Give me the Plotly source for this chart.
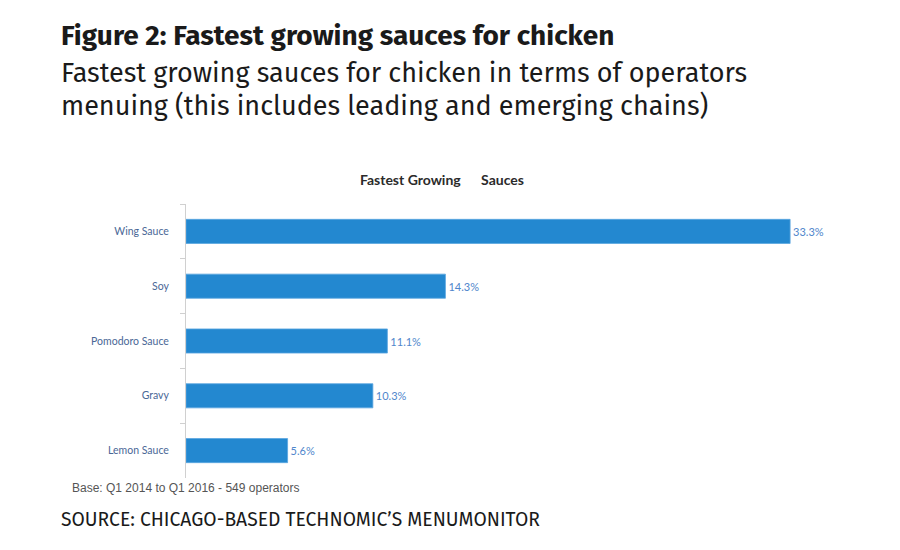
import plotly.graph_objects as go

categories = ["Wing Sauce", "Soy", "Pomodoro Sauce", "Gravy", "Lemon Sauce"]
values = [33.3, 14.3, 11.1, 10.3, 5.6]
value_labels = ["33.3%", "14.3%", "11.1%", "10.3%", "5.6%"]

fig = go.Figure()
fig.add_trace(go.Bar(
    x=values, y=categories, orientation="h",
    marker=dict(color="#2388d0", line=dict(color="#5aa6e0", width=0.8)),
    width=0.44,
    text=value_labels, textposition="outside", cliponaxis=False,
    textfont=dict(family="Lato", size=11, color="#4f86cc"),
    hoverinfo="skip",
))

fig.update_layout(
    width=900, height=550,
    margin=dict(l=186, r=60, t=204, b=72),
    paper_bgcolor="white", plot_bgcolor="white",
    showlegend=False,
    xaxis=dict(range=[0, 36.05], visible=False, fixedrange=True),
    yaxis=dict(
        autorange="reversed",
        tickson="boundaries", ticks="outside", ticklen=5, tickcolor="#d0d0d0",
        showline=True, linecolor="#d0d0d0", linewidth=1,
        showgrid=False, zeroline=False,
        tickfont=dict(family="Lato", size=10.5, color="#4a6796"),
        ticklabelstandoff=14,
    ),
    font=dict(family="Lato"),
)

annotations = [
    dict(text="<b>Figure 2: Fastest growing sauces for chicken</b>", x=59, y=36,
         font=dict(family="Fira Sans, Open Sans", size=28, color="#1a1a1a")),
    dict(text="Fastest growing sauces for chicken in terms of operators", x=59, y=73,
         font=dict(family="Fira Sans, Open Sans", size=27, color="#1a1a1a")),
    dict(text="menuing (this includes leading and emerging chains)", x=59, y=106,
         font=dict(family="Fira Sans, Open Sans", size=27, color="#1a1a1a")),
    dict(text="SOURCE: CHICAGO-BASED TECHNOMIC\u2019S MENUMONITOR", x=59, y=519,
         font=dict(family="Fira Sans, Open Sans", size=19.3, color="#1a1a1a")),
    dict(text="Base: Q1 2014 to Q1 2016 - 549 operators", x=70, y=488,
         font=dict(family="Arial, Liberation Sans", size=12, color="#555555")),
]
for a in annotations:
    fig.add_annotation(xref="paper", yref="paper",
                       x=(a["x"] - 186) / (900 - 186 - 60),
                       y=1 - (a["y"] - 204) / (550 - 204 - 72),
                       text=a["text"], showarrow=False, xanchor="left", yanchor="middle",
                       font=a["font"])

fig.add_annotation(xref="paper", yref="paper",
                   x=(441.5 - 186) / (900 - 186 - 60), y=1 - (179 - 204) / (550 - 204 - 72),
                   text="<b>Fastest Growing\u00a0\u00a0\u00a0\u00a0\u00a0\u00a0Sauces</b>", showarrow=False,
                   xanchor="center", yanchor="middle",
                   font=dict(family="Lato", size=14, color="#2b2b2b"))

fig.write_html("out.html")
